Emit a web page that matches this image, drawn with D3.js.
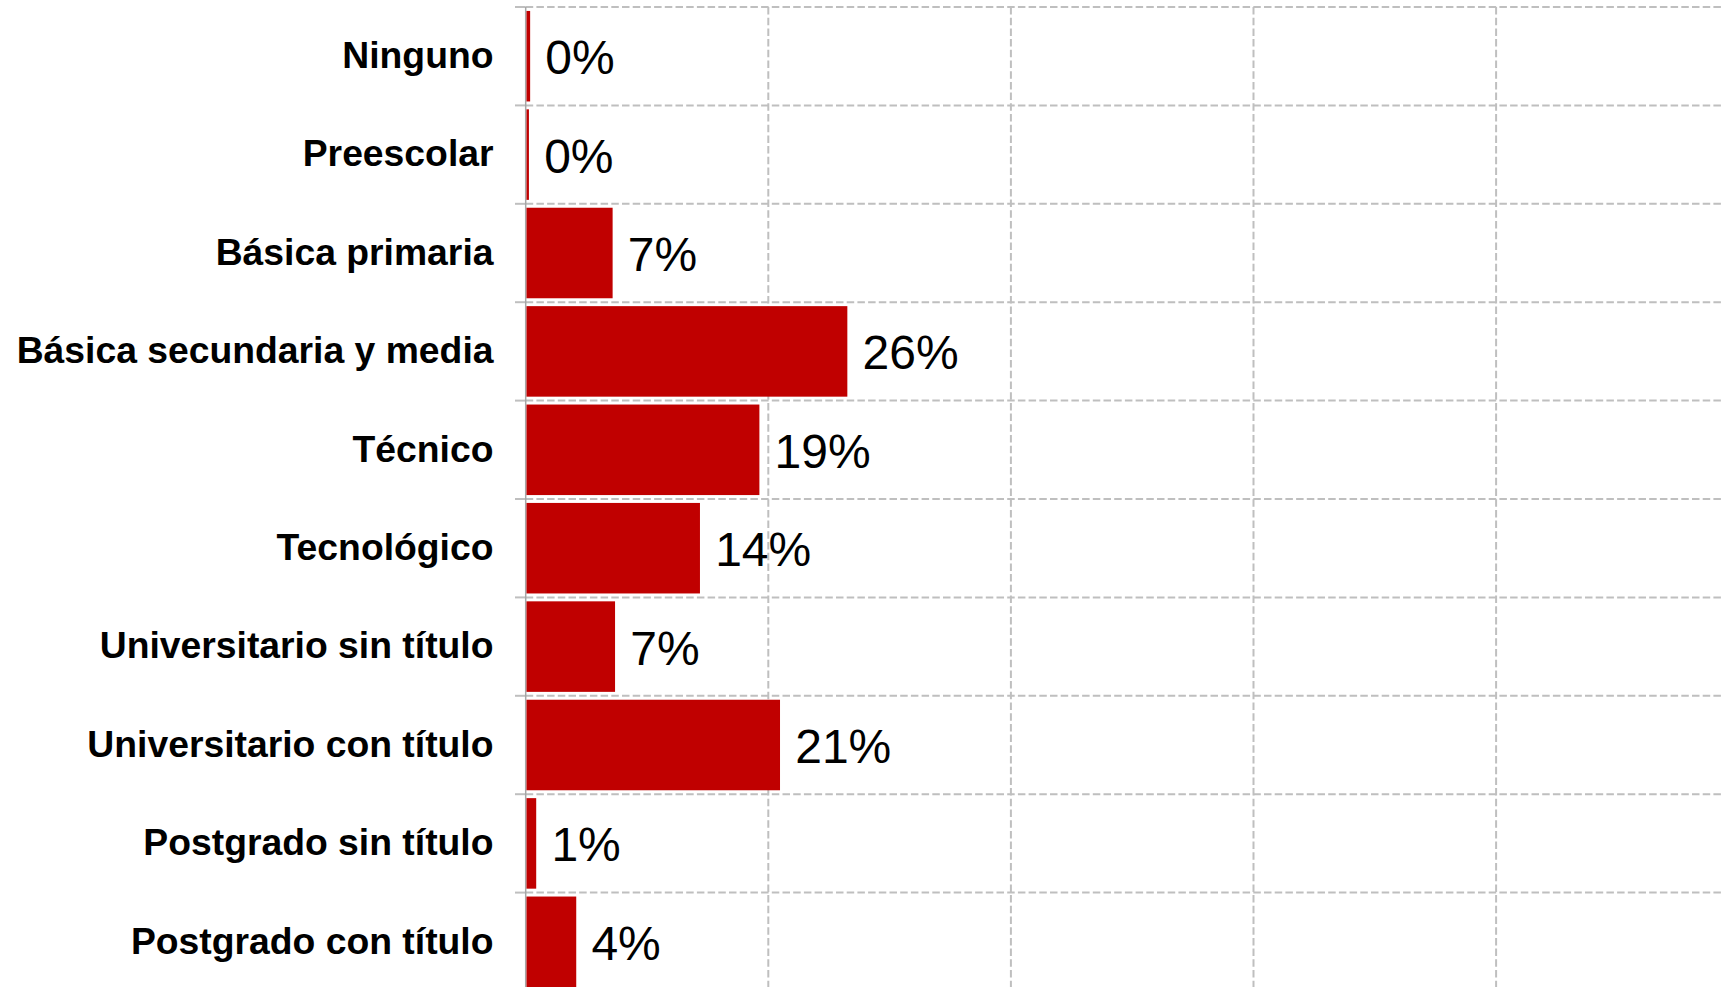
<!DOCTYPE html>
<html>
<head>
<meta charset="utf-8">
<script src="https://cdn.jsdelivr.net/npm/d3@7/dist/d3.min.js"></script>
<style>
  html, body { margin: 0; padding: 0; background: #fff; }
  svg { display: block; }
</style>
</head>
<body>
<svg id="chart" width="1721" height="987"></svg>
<script>
const categories = [
  "Ninguno",
  "Preescolar",
  "Básica primaria",
  "Básica secundaria y media",
  "Técnico",
  "Tecnológico",
  "Universitario sin título",
  "Universitario con título",
  "Postgrado sin título",
  "Postgrado con título"
];
const values = [0.3, 0.2, 7.1, 26.45, 19.2, 14.3, 7.3, 20.9, 0.8, 4.1];
const xTicks = [0, 20, 40, 60, 80, 100];

const W = 1721, H = 987;
const x0 = 525.7;
const svg = d3.select("#chart");

const x = d3.scaleLinear().domain([0, 100]).range([x0, x0 + 5 * 242.6]);
const y = d3.scaleBand().domain(categories).range([7, 7 + 10 * 98.4])
  .paddingInner(0.08).paddingOuter(0.04);

const step = y.step();
const gridColor = "#bfbfbf";

// horizontal gridlines at category boundaries
const bounds = d3.range(categories.length + 1).map(i => 7 + i * step);
svg.append("g").selectAll("line").data(bounds).join("line")
  .attr("x1", x0).attr("x2", W)
  .attr("y1", d => d).attr("y2", d => d)
  .attr("stroke", gridColor).attr("stroke-width", 2)
  .attr("stroke-dasharray", "7.5,3.2");
// tick marks left of axis
svg.append("g").selectAll("line").data(bounds).join("line")
  .attr("x1", 515).attr("x2", x0)
  .attr("y1", d => d).attr("y2", d => d)
  .attr("stroke", gridColor).attr("stroke-width", 2);

// vertical gridlines
svg.append("g").selectAll("line").data(xTicks.filter(t => t > 0)).join("line")
  .attr("x1", d => x(d)).attr("x2", d => x(d))
  .attr("y1", 7).attr("y2", H)
  .attr("stroke", gridColor).attr("stroke-width", 2)
  .attr("stroke-dasharray", "7.5,3.2");

// axis line
svg.append("line")
  .attr("x1", x0).attr("x2", x0).attr("y1", 7).attr("y2", H)
  .attr("stroke", "#a6a6a6").attr("stroke-width", 1.5);

// bars
svg.append("g").selectAll("rect").data(categories).join("rect")
  .attr("x", x(0) + 0.8)
  .attr("y", d => y(d))
  .attr("width", (d, i) => Math.max(0, x(values[i]) - x(0)))
  .attr("height", y.bandwidth())
  .attr("fill", "#c00000");

// value labels
svg.append("g").selectAll("text").data(categories).join("text")
  .attr("x", (d, i) => x(values[i]) + 16)
  .attr("y", d => y(d) + y.bandwidth() / 2 + 18)
  .attr("font-family", "'Liberation Sans', Arial, sans-serif")
  .attr("font-size", 48)
  .attr("fill", "#000")
  .text((d, i) => Math.round(values[i]) + "%");

// category labels
svg.append("g").selectAll("text").data(categories).join("text")
  .attr("x", 493.5)
  .attr("y", d => y(d) + y.bandwidth() / 2 + 11.8)
  .attr("text-anchor", "end")
  .attr("font-family", "'Liberation Sans', Arial, sans-serif")
  .attr("font-weight", "bold")
  .attr("font-size", 37.3)
  .attr("fill", "#000")
  .text(d => d);
</script>
</body>
</html>
